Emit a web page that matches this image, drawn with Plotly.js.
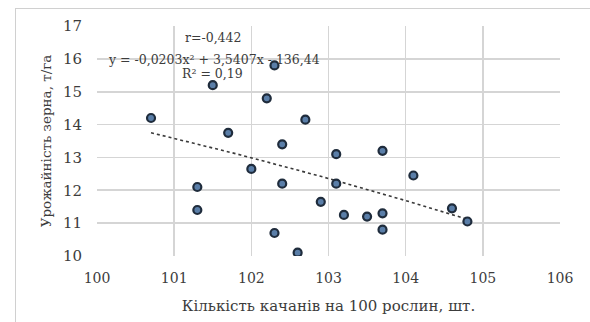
<!DOCTYPE html>
<html>
<head>
<meta charset="utf-8">
<script src="https://cdn.plot.ly/plotly-3.0.1.min.js"></script>
<style>
  html, body { margin: 0; padding: 0; background: #fff; }
  #wrap { position: relative; width: 590px; height: 322px; overflow: hidden; }
  #frame { position: absolute; left: 15px; top: 8px; width: 600px; height: 340px; border: 1px solid #d0d0d0; box-sizing: border-box; }
  #chart { position: absolute; left: 0; top: 0; width: 590px; height: 322px; }
</style>
</head>
<body>
<div id="wrap">
  <div id="frame"></div>
  <div id="chart"></div>
</div>
<script>
// Data
const earsPer100 = [100.7, 101.5, 101.7, 101.3, 101.3, 102.0, 102.2, 102.3, 102.4, 102.4, 102.3, 102.6,
                    102.7, 102.9, 103.1, 103.1, 103.2, 103.5, 103.7, 103.7, 103.7, 104.1, 104.6, 104.8];
const grainYield = [14.2, 15.2, 13.75, 12.1, 11.4, 12.65, 14.8, 15.8, 13.4, 12.2, 10.7, 10.1,
                    14.15, 11.65, 13.1, 12.2, 11.25, 11.2, 13.2, 11.3, 10.8, 12.45, 11.45, 11.05];
const xTicks = [100, 101, 102, 103, 104, 105, 106];
const yTicks = [10, 11, 12, 13, 14, 15, 16, 17];
const eqLines = ["r=-0,442", "y = -0,0203x² + 3,5407x - 136,44", "R² = 0,19"];
const xTitle = "Кількість качанів на 100 рослин, шт.";
const yTitle = "Урожайність зерна, т/га";

// Quadratic least-squares trend (as the spreadsheet trendline)
function polyfit2(xs, ys) {
  const n = xs.length, m = xs.reduce((a, b) => a + b, 0) / n;
  const S = [0, 0, 0, 0, 0], T = [0, 0, 0];
  for (let i = 0; i < n; i++) {
    const u = xs[i] - m;
    for (let k = 0; k < 5; k++) S[k] += Math.pow(u, k);
    for (let k = 0; k < 3; k++) T[k] += ys[i] * Math.pow(u, k);
  }
  const A = [[S[0], S[1], S[2], T[0]], [S[1], S[2], S[3], T[1]], [S[2], S[3], S[4], T[2]]];
  for (let c = 0; c < 3; c++) {
    for (let r = c + 1; r < 3; r++) {
      const f = A[r][c] / A[c][c];
      for (let k = c; k < 4; k++) A[r][k] -= f * A[c][k];
    }
  }
  const coef = [0, 0, 0];
  for (let r = 2; r >= 0; r--) {
    let s = A[r][3];
    for (let k = r + 1; k < 3; k++) s -= A[r][k] * coef[k];
    coef[r] = s / A[r][r];
  }
  return x => coef[0] + coef[1] * (x - m) + coef[2] * (x - m) * (x - m);
}
const fit = polyfit2(earsPer100, grainYield);
const xmin = Math.min(...earsPer100), xmax = Math.max(...earsPer100);
const trendX = [], trendY = [];
for (let i = 0; i <= 60; i++) {
  const x = xmin + (xmax - xmin) * i / 60;
  trendX.push(x); trendY.push(fit(x));
}

const serif = "DejaVu Serif, serif";
const txt = '#3c3c3c';
const traces = [
  {
    x: trendX, y: trendY, type: 'scatter', mode: 'lines',
    line: { color: '#3a3a3a', width: 1.6, dash: 'dot' }, hoverinfo: 'skip'
  },
  {
    x: earsPer100, y: grainYield, type: 'scatter', mode: 'markers',
    marker: { size: 8, color: '#5a7ea8', line: { color: '#1f2c3c', width: 2.2 } }
  }
];

const layout = {
  width: 590, height: 322,
  margin: { l: 97, r: 30, t: 26, b: 66 },
  paper_bgcolor: 'rgba(0,0,0,0)', plot_bgcolor: '#ffffff',
  showlegend: false,
  font: { family: serif, color: txt },
  xaxis: {
    range: [100, 106], tickvals: xTicks, ticktext: xTicks.map(String),
    showgrid: true, gridcolor: '#d5d5d5', gridwidth: 1.6,
    zeroline: false, showline: false, ticks: '',
    tickfont: { family: serif, size: 14, color: txt },
    ticklabelstandoff: 12,
    title: { text: xTitle, font: { family: serif, size: 15, color: txt }, standoff: 15 }
  },
  yaxis: {
    range: [10, 17], tickvals: yTicks, ticktext: yTicks.map(String),
    showgrid: true, gridcolor: '#d5d5d5', gridwidth: 1.6,
    zeroline: false, showline: false, ticks: '',
    tickfont: { family: serif, size: 15, color: txt },
    ticklabelstandoff: 14,
    title: { text: yTitle, font: { family: serif, size: 13.5, color: txt }, standoff: 8 }
  },
  annotations: [
    { text: eqLines[0], xref: 'paper', yref: 'paper', x: 0.25, y: 0.948, showarrow: false,
      font: { family: serif, size: 12.5, color: txt }, xanchor: 'center', yanchor: 'middle' },
    { text: eqLines[1], xref: 'paper', yref: 'paper', x: 0.252, y: 0.855, showarrow: false,
      font: { family: serif, size: 12.5, color: txt }, xanchor: 'center', yanchor: 'middle' },
    { text: eqLines[2], xref: 'paper', yref: 'paper', x: 0.25, y: 0.795, showarrow: false,
      font: { family: serif, size: 12.5, color: txt }, xanchor: 'center', yanchor: 'middle' }
  ]
};

Plotly.newPlot('chart', traces, layout, { displayModeBar: false, staticPlot: true });
</script>
</body>
</html>
